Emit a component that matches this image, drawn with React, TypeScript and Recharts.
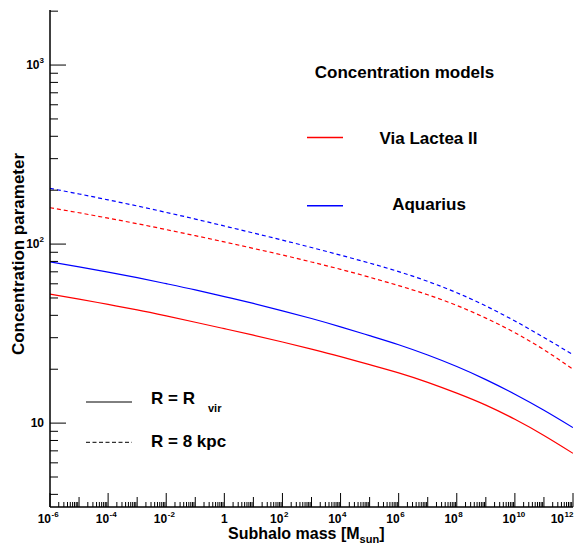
import { LineChart, Line, XAxis, YAxis, Legend } from "recharts";

const W = 574;
const H = 538;
const FONT = '"Liberation Sans", Arial, Helvetica, sans-serif';

// subhalo mass [M_sun], one point per decade
const mass = [
  1e-6, 1e-5, 1e-4, 1e-3, 1e-2, 1e-1, 1, 1e1, 1e2, 1e3, 1e4, 1e5, 1e6, 1e7, 1e8, 1e9, 1e10, 1e11, 1e12,
];

// concentration parameter
const viaLacteaRvir = [52.6, 49.3, 46.0, 42.9, 39.7, 36.6, 33.7, 31.0, 28.4, 25.9, 23.5, 21.2, 19.1, 16.9, 14.7, 12.6, 10.5, 8.53, 6.78];
const aquariusRvir = [79.6, 74.6, 69.7, 64.9, 60.1, 55.5, 50.9, 46.6, 42.4, 38.4, 34.5, 30.8, 27.4, 24.0, 20.7, 17.5, 14.5, 11.8, 9.44];
const viaLactea8kpc = [159.6, 149.6, 139.6, 130.0, 120.5, 111.4, 102.8, 94.6, 86.9, 79.4, 72.3, 65.3, 58.6, 52.1, 45.4, 38.6, 32.0, 25.7, 20.0];
const aquarius8kpc = [204.6, 190.5, 176.6, 163.3, 150.3, 138.0, 126.2, 115.3, 105.2, 95.7, 86.7, 78.3, 70.2, 61.9, 53.5, 45.1, 37.2, 30.1, 24.1];

// axis ticks
const minorSteps = [2, 3, 4, 5, 6, 7, 8, 9];
const yTicks = [4, 5, 6, 7, 8, 9, 10, 20, 30, 40, 50, 60, 70, 80, 90, 100, 200, 300, 400, 500, 600, 700, 800, 900, 1000, 2000];
const xDomain = [1e-6, 1e12];
const yDomain = [3.4, 2030];

const data = mass.map((m, i) => ({
  m,
  vlRvir: viaLacteaRvir[i],
  aqRvir: aquariusRvir[i],
  vl8: viaLactea8kpc[i],
  aq8: aquarius8kpc[i],
}));

const xTicks = mass.flatMap((m, i) => (i === mass.length - 1 ? [m] : [m, ...minorSteps.map((s) => s * m)]));

const expOf = (v: number) => Math.round(Math.log10(v));
const isDecade = (v: number) => Math.abs(Math.log10(v) - expOf(v)) < 1e-6;

function xMarkLen(v: number) {
  if (!isDecade(v)) return 5;
  return expOf(v) % 2 === 0 ? 14 : 10;
}

const lbl = { fontFamily: FONT, fontWeight: "bold" as const, fill: "#000" };

function BottomTick(props: any) {
  const { x, y, payload } = props;
  const v = payload.value;
  const len = xMarkLen(v);
  const e = expOf(v);
  const labelled = isDecade(v) && e % 2 === 0;
  // the last label is pulled left so it stays on the page
  const bx = v >= xDomain[1] ? x - 9 : x + 1;
  return (
    <g>
      <line x1={x} x2={x} y1={y} y2={y - len} stroke="#000" strokeWidth={1} />
      {labelled && e === 0 && (
        <text x={x} y={y + 16} textAnchor="middle" fontSize={12} {...lbl}>1</text>
      )}
      {labelled && e !== 0 && (
        <g>
          <text x={bx} y={y + 16} textAnchor="end" fontSize={12} {...lbl}>10</text>
          <text x={bx + 0.5} y={y + 10} textAnchor="start" fontSize={8} {...lbl}>{e}</text>
        </g>
      )}
    </g>
  );
}

function TopTick(props: any) {
  const { x, y, payload } = props;
  const len = xMarkLen(payload.value);
  return <line x1={x} x2={x} y1={y} y2={y + len} stroke="#000" strokeWidth={1} />;
}

function LeftTick(props: any) {
  const { x, y, payload } = props;
  const v = payload.value;
  const dec = isDecade(v);
  const e = expOf(v);
  return (
    <g>
      <line x1={x} x2={x + (dec ? 16 : 8)} y1={y} y2={y} stroke="#000" strokeWidth={1} />
      {dec && (
        <text x={x - 6} y={y + 4} textAnchor="end" fontSize={12} {...lbl}>
          <tspan>10</tspan>
          {e > 1 && (
            <tspan dy={-6} fontSize={8}>
              {e}
            </tspan>
          )}
        </text>
      )}
    </g>
  );
}

function RightTick(props: any) {
  const { x, y, payload } = props;
  const dec = isDecade(payload.value);
  return <line x1={x} x2={x - (dec ? 16 : 8)} y1={y} y2={y} stroke="#000" strokeWidth={1} />;
}

function Overlay() {
  return (
    <svg width={W} height={H} style={{ display: "block" }}>
      <text x={396.5} y={70} textAnchor="middle" fontSize={17} {...lbl}>Concentration models</text>
      <line x1={299} x2={335} y1={129.5} y2={129.5} stroke="#ff0000" strokeWidth={1.5} />
      <text x={420.5} y={136.3} textAnchor="middle" fontSize={17} {...lbl}>Via Lactea II</text>
      <line x1={299} x2={335} y1={197.7} y2={197.7} stroke="#0000ff" strokeWidth={1.5} />
      <text x={421} y={201.5} textAnchor="middle" fontSize={17} {...lbl}>Aquarius</text>

      <line x1={78} x2={124} y1={394} y2={394} stroke="#000" strokeWidth={1} />
      <text x={143} y={396} fontSize={17} {...lbl}>
        R = R
        <tspan x={200} y={403.7} fontSize={11}>vir</tspan>
      </text>
      <line x1={78} x2={124} y1={434.3} y2={434.3} stroke="#000" strokeWidth={1} strokeDasharray="4 2.5" />
      <text x={143} y={439.3} fontSize={17} {...lbl}>R = 8 kpc</text>

      <text x={220} y={531} fontSize={16} {...lbl}>
        Subhalo mass [M
        <tspan dy={4} fontSize={11}>sun</tspan>
        <tspan dy={-4}>]</tspan>
      </text>
      <text x={16} y={246} fontSize={17} textAnchor="middle" transform="rotate(-90 16 246)" {...lbl}>
        Concentration parameter
      </text>
    </svg>
  );
}

export default function App() {
  const axisLine = { stroke: "#000", strokeWidth: 1.5 };
  return (
    <div style={{ width: W, height: H, background: "#fff", position: "relative" }}>
      <LineChart width={W} height={H} data={data} margin={{ top: 2, right: 9, bottom: 0, left: 0 }}>
        <XAxis
          dataKey="m"
          type="number"
          scale="log"
          domain={xDomain}
          allowDataOverflow
          ticks={xTicks}
          interval={0}
          height={39}
          tickSize={0}
          tickMargin={0}
          tickLine={false}
          axisLine={axisLine}
          tick={(p: any) => <BottomTick {...p} />}
        />
        <XAxis
          xAxisId="top"
          orientation="top"
          dataKey="m"
          type="number"
          scale="log"
          domain={xDomain}
          allowDataOverflow
          ticks={xTicks}
          interval={0}
          height={0}
          tickSize={0}
          tickMargin={0}
          tickLine={false}
          axisLine={axisLine}
          tick={(p: any) => <TopTick {...p} />}
        />
        <YAxis
          type="number"
          scale="log"
          domain={yDomain}
          allowDataOverflow
          ticks={yTicks}
          interval={0}
          width={42}
          tickSize={0}
          tickMargin={0}
          tickLine={false}
          axisLine={axisLine}
          tick={(p: any) => <LeftTick {...p} />}
        />
        <YAxis
          yAxisId="right"
          orientation="right"
          type="number"
          scale="log"
          domain={yDomain}
          allowDataOverflow
          ticks={yTicks}
          interval={0}
          width={0}
          tickSize={0}
          tickMargin={0}
          tickLine={false}
          axisLine={axisLine}
          tick={(p: any) => <RightTick {...p} />}
        />
        <Line type="natural" dataKey="aq8" stroke="#0000ff" strokeWidth={1.2} strokeDasharray="4 3" dot={false} isAnimationActive={false} />
        <Line type="natural" dataKey="vl8" stroke="#ff0000" strokeWidth={1.2} strokeDasharray="4 3" dot={false} isAnimationActive={false} />
        <Line type="natural" dataKey="aqRvir" stroke="#0000ff" strokeWidth={1.2} dot={false} isAnimationActive={false} />
        <Line type="natural" dataKey="vlRvir" stroke="#ff0000" strokeWidth={1.2} dot={false} isAnimationActive={false} />
        <Legend
          layout="horizontal"
          verticalAlign="middle"
          align="center"
          content={() => <Overlay />}
          wrapperStyle={{ position: "absolute", left: 0, top: 0, width: W, height: H, pointerEvents: "none" }}
        />
      </LineChart>
    </div>
  );
}
